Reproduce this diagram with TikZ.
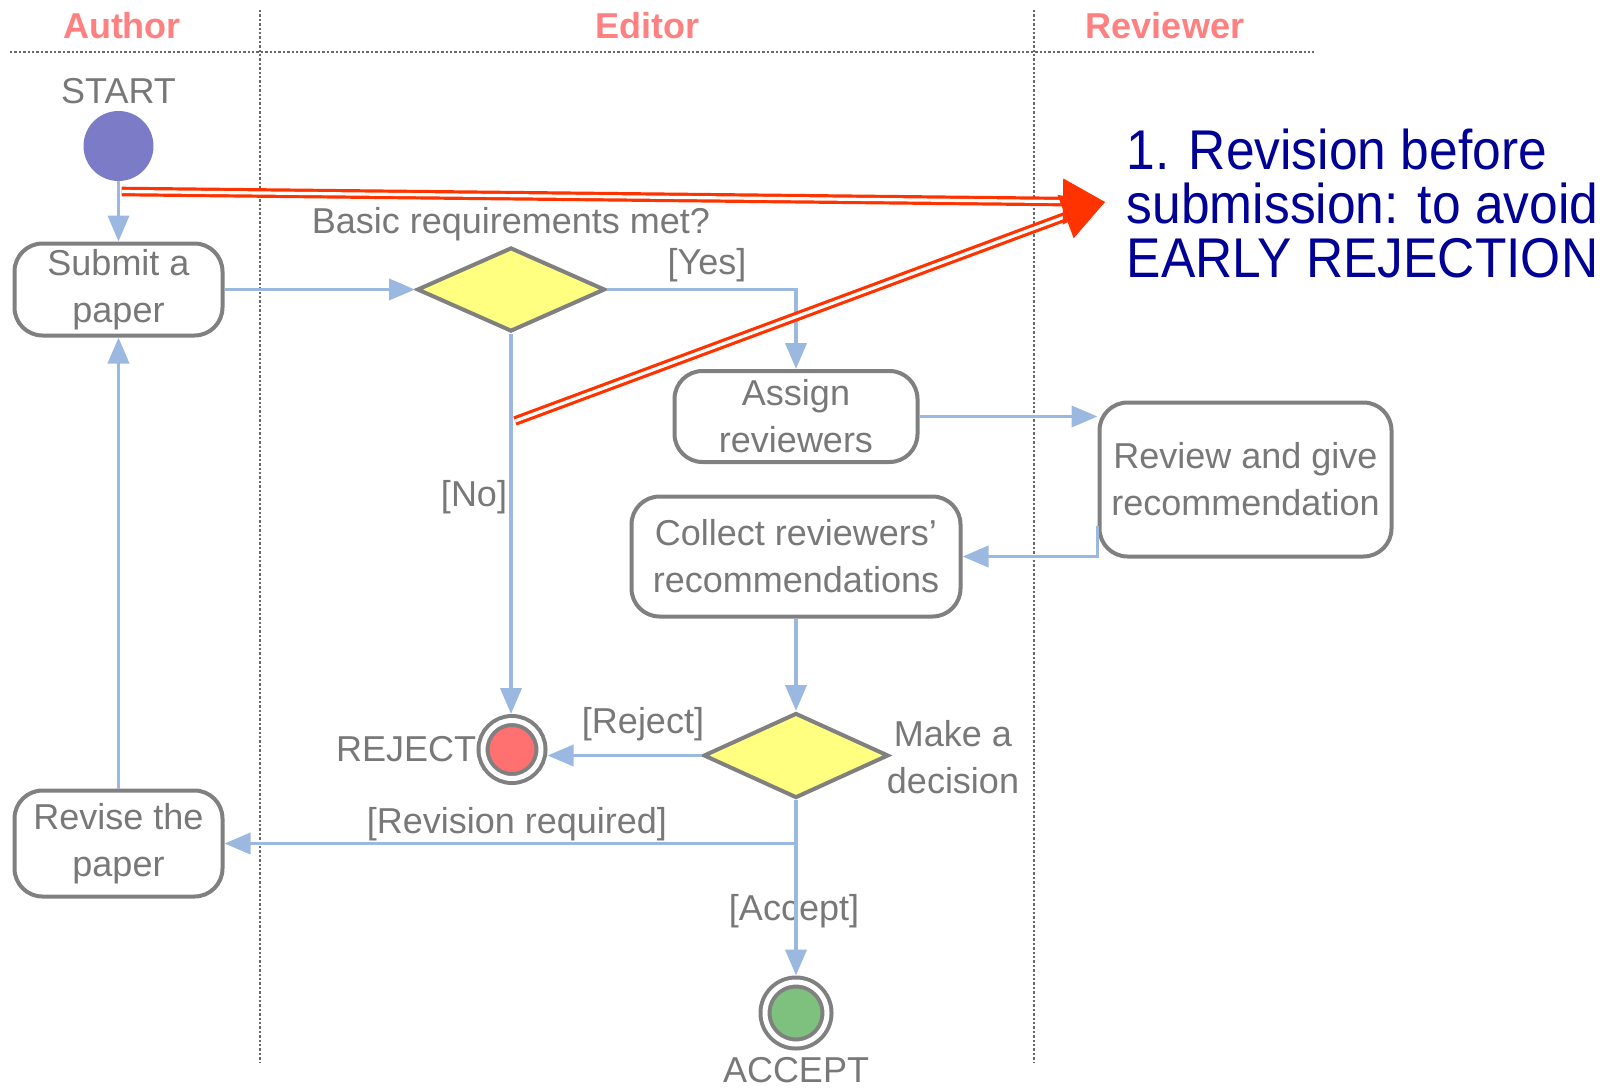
\documentclass[tikz,border=0pt]{standalone}
\usepackage{fontspec}
\setmainfont{Liberation Sans}
\newfontfamily\notefont[FakeStretch=0.92]{Liberation Sans}
\usepackage{xcolor}
\usetikzlibrary{arrows.meta,positioning,calc,shapes.geometric}

\definecolor{flowblue}{RGB}{155,184,224}
\definecolor{boxgray}{RGB}{128,128,128}
\definecolor{txtgray}{RGB}{120,120,120}
\definecolor{lanegray}{RGB}{105,105,105}
\definecolor{headpink}{RGB}{255,128,128}
\definecolor{diayellow}{RGB}{255,255,128}
\definecolor{startblue}{RGB}{123,123,200}
\definecolor{rejred}{RGB}{255,112,112}
\definecolor{accgreen}{RGB}{126,192,126}
\definecolor{warnred}{RGB}{255,51,0}
\definecolor{notenavy}{RGB}{0,0,150}

\begin{document}
\begin{tikzpicture}[
    x=0.5pt, y=-0.5pt,
    actbox/.style={
        rectangle, rounded corners=14pt, draw=boxgray, line width=2pt,
        fill=white, align=center, inner sep=0pt, text=txtgray,
        font=\fontsize{18}{23.5}\selectfont
    },
    decision/.style={
        diamond, draw=boxgray, line width=2pt, fill=diayellow,
        inner sep=0pt, minimum width=94pt, minimum height=42pt
    },
    final/.style={
        circle, draw=boxgray, line width=2pt, double=white,
        double distance=2.5pt, fill=#1, inner sep=0pt, outer sep=3.25pt
    },
    lbl/.style={text=txtgray, inner sep=0pt, align=center,
        font=\fontsize{18}{23.5}\selectfont},
    lanehead/.style={text=headpink, inner sep=0pt,
        font=\fontsize{18}{22}\selectfont\bfseries},
    lane/.style={lanegray, line width=0.7pt, dash pattern=on 1.2pt off 1pt},
    flow/.style={-{Triangle[length=13pt,width=10.5pt]}, draw=flowblue, line width=1.9pt},
    warn/.style={draw=warnred, line width=1.6pt, double=white, double distance=1.6pt},
    warnhead/.style={-{Triangle[length=21pt,width=23pt]}, draw=warnred, fill=warnred, line width=0.5pt},
]
\useasboundingbox (0,0) rectangle (1616,1087);

% Swimlanes
\node[lanehead] (hauthor) at (122,26) {Author};
\node[lanehead] (heditor) at (647,26) {Editor};
\node[lanehead] (hreviewer) at (1165,26) {Reviewer};
\draw[lane] (10,52) -- (1314,52);
\draw[lane] (260,10) -- (260,1062);
\draw[lane] (1034,10) -- (1034,1062);

% Author lane
\node[circle, fill=startblue, minimum size=35pt, inner sep=0pt] (start) at (118.5,146) {};
\node[lbl, above=3pt of start] (starttxt) {START};
\node[actbox, minimum width=104pt, minimum height=46pt] (submit) at (118.5,289.5) {Submit a\\paper};
\node[actbox, minimum width=104pt, minimum height=53pt] (revise) at (118.5,843.5) {Revise the\\paper};

% Editor lane
\node[decision] (check) at (511,289.5) {};
\node[lbl, above=2pt of check] (checktxt) {Basic requirements met?};
\node[actbox, minimum width=121.5pt, minimum height=45.5pt] (assign) at (796,416.5) {Assign\\reviewers};
\node[actbox, minimum width=164.5pt, minimum height=60pt] (collect) at (796,556.5) {Collect reviewers’\\recommendations};
\node[decision, minimum width=92.5pt, minimum height=42.5pt] (decide) at (796,755.5) {};
\node[lbl] (decidetxt) at (953,757.5) {Make a\\decision};
\node[final=rejred, minimum size=29pt] (reject) at (512,749.5) {};
\node[lbl, left=0pt of reject] (rejecttxt) {REJECT};
\node[final=accgreen, minimum size=31pt] (accept) at (796,1013) {};
\node[lbl, below=3pt of accept] (accepttxt) {ACCEPT};

% Reviewer lane
\node[actbox, minimum width=146pt, minimum height=77pt] (review) at (1245.5,479.5) {Review and give\\recommendation};

% Guards
\node[lbl] (yes) at (707,265) {[Yes]};
\node[lbl] (no) at (474,497) {[No]};
\node[lbl] (rej) at (643,724.5) {[Reject]};
\node[lbl] (revreq) at (517,824.5) {[Revision required]};
\node[lbl] (acc) at (794,911) {[Accept]};

% Flows
\draw[flow] (start) -- (submit);
\draw[flow] (submit) -- (check);
\draw[flow] (check.east) -| (assign.north);
\draw[flow] (check.south) -- (check.south |- reject.north);
\draw[flow] (assign.east) -- (assign.east -| review.west);
\draw[flow] ([yshift=-23pt]review.west) |- (collect.east);
\draw[flow] (collect) -- (decide);
\draw[flow] (decide.west) -- (decide.west -| reject.east);
\draw[flow] (decide.south) |- (revise.east);
\draw[flow] (decide) -- (accept);
\draw[flow] (revise) -- (submit);

% Note
\node[text=notenavy, inner sep=0pt, align=left, anchor=north west,
      font=\notefont\fontsize{28}{26.8}\selectfont] (note) at (1126.5,129)
      {1. Revision before\\submission: to avoid\\EARLY REJECTION};

% Pointers to the note
\coordinate (tip) at (1105,202);
\coordinate (hstart) at (121.6,191.5);
\coordinate (dstart) at (515,421);
\draw[warn] (hstart) -- ($(tip)!14pt!(hstart)$);
\draw[warn] (dstart) -- ($(tip)!14pt!(dstart)$);
\draw[warnhead] ($(tip)!21pt!(hstart)$) -- (tip);
\draw[warnhead] ($(tip)!21pt!(dstart)$) -- (tip);
\end{tikzpicture}
\end{document}
